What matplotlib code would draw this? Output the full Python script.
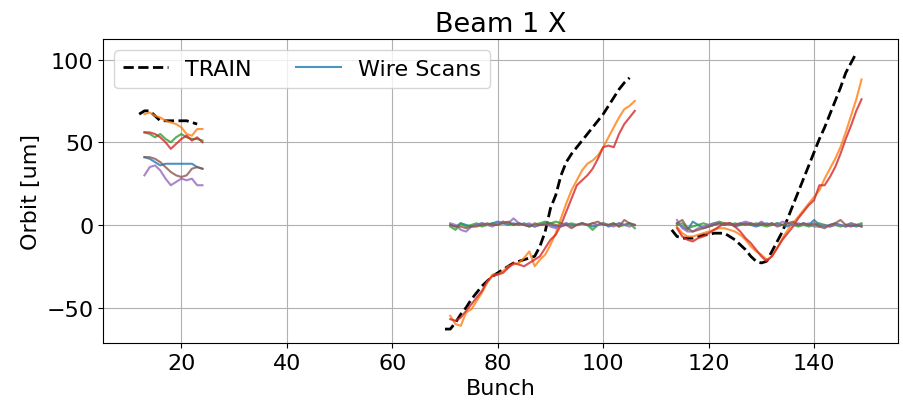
import numpy as np
import matplotlib
matplotlib.use("Agg")
import matplotlib.pyplot as plt

# ---------------- data ----------------
train_left_x = list(range(12, 24))
train_mid_x = list(range(70, 106))
train_right_x = list(range(113, 149))

wire_left_x = list(range(13, 25))
wire_mid_x = list(range(71, 107))
wire_right_x = list(range(114, 150))

train_left = [67, 69, 69, 66, 63, 63, 63, 63, 63, 63, 62, 61]
train_mid = [-63, -63, -59, -54, -50, -45, -41, -37, -34, -31,
             -29, -27, -25, -23, -22, -21, -20, -19, -13, -4,
             10, 18, 30, 38, 43, 47, 51, 55, 59, 63,
             67, 72, 77, 82, 86, 89]
train_right = [-3, -7, -8, -8, -8, -7, -6,
               -6, -5, -5, -5, -7, -9, -12, -15, -19, -22,
               -23, -22, -16, -10, -4, 4, 12, 20, 28, 36,
               44, 52, 59, 67, 75, 83, 92, 98, 104]

# wire scans (tab10 colour order: blue, orange, green, red, purple, brown)
ws_blue_left = [41, 40, 38, 36, 37, 37, 37, 37, 37, 37, 35, 34]
ws_orange_left = [67, 68, 66, 65, 63, 62, 61, 59, 55, 54, 58, 58]
ws_green_left = [56, 55, 53, 55, 52, 50, 53, 55, 53, 52, 52, 51]
ws_red_left = [56, 56, 55, 53, 50, 46, 49, 52, 54, 51, 53, 50]
ws_purple_left = [30, 35, 36, 33, 28, 24, 26, 28, 27, 28, 24, 24]
ws_brown_left = [41, 41, 40, 38, 35, 32, 30, 29, 30, 34, 35, 34]

ws_blue_mid = [0, -1, 1, 0, -1, 0, 1, 0, 1, 2, 1, 0, 1, 0, 1, 0, -1, 0, 1, 0,
               -1, 0, 1, 0, 0, 1, 0, -1, 0, 1, -1, 0, 1, 0, 1, 0]
ws_orange_mid = [-55, -60, -61, -53, -51, -46, -41, -35, -30,
                 -30, -28, -25, -24, -23, -20, -16, -25, -21, -18,
                 -12, -5, 4, 13, 21, 27, 33, 37, 39, 42,
                 47, 53, 59, 65, 70, 72, 75]
ws_green_mid = [-1, -3, 1, -1, 0, 1, -1, 0, 1, 0, 2, 1, 0, 1, 0, -1, 0, 1, 2, 1,
                2, 1, 0, 1, 0, 1, 0, -3, 0, 1, 0, 1, -1, 0, 1, -2]
ws_red_mid = [-57, -58, -56, -52, -48, -44, -40, -34, -31,
              -30, -29, -26, -23, -24, -25, -23, -21, -19, -14,
              -9, -6, 0, 8, 16, 24, 27, 30, 34, 40,
              47, 48, 47, 55, 61, 65, 69]
ws_purple_mid = [1, 0, -3, -4, -1, 0, 1, 0, -1, 1, 2, 1, 4, 1, 0, 1, -1, 0, 1, -1,
                 -2, 0, 1, -1, 0, 1, 0, 1, 0, 1, 0, -1, 1, 0, -1, 0]
ws_brown_mid = [0, -1, -1, -2, -1, -1, 0, 1, 0, 0, 1, 2, 0, 1, 0, -1, 1, 0, 0, 1,
                0, -1, 0, -2, 0, 1, 0, 1, 2, 0, 0, 1, -1, 3, 1, 0]

ws_blue_right = [1, -1, -3, 2, 0, -2, -1, 0, 1, 0, 1, -1, 0, 1, 0, -1, 0, 1, 0, 1,
                 0, -1, 1, 0, 1, 0, 3, 0, -1, 0, 1, 0, -1, 0, -1, 0]
ws_orange_right = [-1, -5, -7, -7, -6, -5,
                   -4, -3, -2, -2, -3, -4, -6, -9, -13, -16,
                   -18, -21, -19, -14, -8, -3, 1, 5, 9, 13,
                   17, 21, 28, 34, 40, 47, 56, 66, 76, 88]
ws_green_right = [0, 1, -2, -1, 0, 1, 0, 1, 2, 1, 0, 1, 0, 1, 0, 1, 0, -1, 0, 1,
                  0, 1, 0, -1, 0, -1, 0, 1, 0, -1, 0, -1, 0, 1, 0, 1]
ws_red_right = [-2, -7, -9, -10, -8, -7,
                -5, -3, -1, 1, 1, -1, -4, -8, -11, -15,
                -19, -22, -19, -14, -9, -5, -1, 4, 8, 12,
                15, 24, 24, 29, 35, 43, 52, 60, 69, 76]
ws_purple_right = [3, -2, -4, -4, -2, -1, 0, 1, 1, 0, 1, 0, 1, 2, 1, 0, 2, 0, 1, 0,
                   2, 1, 0, 1, 0, 1, -1, -1, 0, -1, 0, 0, -1, 1, 0, -1]
ws_brown_right = [1, 3, -2, -4, -3, -2, -1, 0, 1, 0, 1, 0, 1, 0, 1, 0, 1, 0, 1, -1,
                  0, 1, 2, 0, 1, 0, 1, -1, -2, 0, 1, 3, 0, -1, 0, -1]

title = "Beam 1 X"
xlabel = "Bunch"
ylabel = "Orbit [um]"


def join(segs_x, segs_y):
    xs, ys = [], []
    for sx, sy in zip(segs_x, segs_y):
        assert len(sx) == len(sy), (len(sx), len(sy))
        xs += list(sx) + [np.nan]
        ys += list(sy) + [np.nan]
    return np.array(xs[:-1], float), np.array(ys[:-1], float)


plt.rcParams['font.size'] = 16
fig = plt.figure(figsize=(9.04, 4.06), dpi=100)
ax = fig.add_axes([0.114, 0.153, 0.879, 0.748])

tx, ty = join([train_left_x, train_mid_x, train_right_x],
              [train_left, train_mid, train_right])
ax.plot(tx, ty, 'k--', lw=2, label="TRAIN")

wire_series = [
    (ws_blue_left, ws_blue_mid, ws_blue_right),
    (ws_orange_left, ws_orange_mid, ws_orange_right),
    (ws_green_left, ws_green_mid, ws_green_right),
    (ws_red_left, ws_red_mid, ws_red_right),
    (ws_purple_left, ws_purple_mid, ws_purple_right),
    (ws_brown_left, ws_brown_mid, ws_brown_right),
]
for i, (l, m, r) in enumerate(wire_series):
    wx, wy = join([wire_left_x, wire_mid_x, wire_right_x], [l, m, r])
    ax.plot(wx, wy, color=f"C{i}", lw=1.5, alpha=0.8,
            label="Wire Scans" if i == 0 else None)

ax.grid(True)
ax.set_title(title, fontsize=19.5)
ax.set_xlabel(xlabel)
ax.set_ylabel(ylabel)
ax.set_yticks([-50, 0, 50, 100])
ax.legend(loc="upper left", ncol=2)

fig.savefig("out.png", dpi=100)
